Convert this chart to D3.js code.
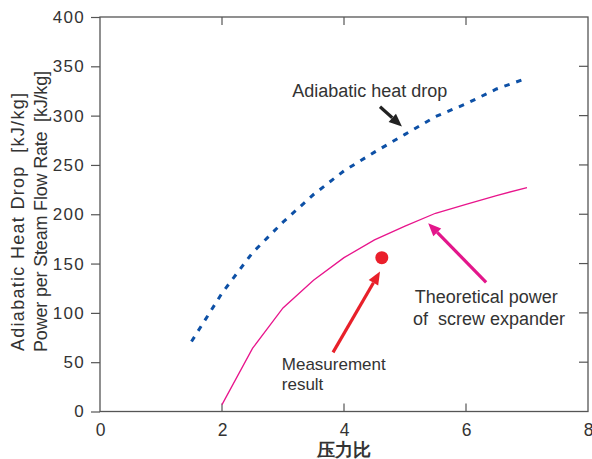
<!DOCTYPE html>
<html>
<head>
<meta charset="utf-8">
<script src="https://cdn.jsdelivr.net/npm/d3@7"></script>
<style>
  body { margin: 0; background: #fff; }
  text { font-family: "Liberation Sans", Arial, sans-serif; fill: #333; }
</style>
</head>
<body>
<div id="chart"></div>
<script>
// pressure ratio values
var pressureRatio = [1.5, 2, 2.5, 3, 3.5, 4, 4.5, 5, 5.5, 6, 6.5, 7];
var heatDrop = [71, 120, 161, 192, 220, 244, 263, 281, 299, 312, 327, 338];
var ratioPower = [2, 2.5, 3, 3.5, 4, 4.5, 5, 5.5, 6, 6.5, 7];
var theoreticalPower = [7, 64, 105, 133, 156, 174, 188, 201, 210, 219, 227];
var measured = [{ x: 4.62, y: 156 }];

var xTicks = [0, 2, 4, 6, 8];
var yTicks = [0, 50, 100, 150, 200, 250, 300, 350, 400];

// annotations, in data units
var arrows = [
  { from: [4.59, 309], to: [4.95, 289], color: "#222" },
  { from: [3.82, 60], to: [4.59, 142], color: "#e8202a" },
  { from: [6.33, 131], to: [5.38, 191], color: "#e3168b" }
];
var labels = [
  { x: 3.15, y: 319, size: 18, text: "Adiabatic heat drop" },
  { x: 5.16, y: 110, size: 18, text: "Theoretical power" },
  { x: 5.13, y: 88, size: 18, text: "of\u00a0 screw expander" },
  { x: 2.98, y: 42, size: 17, text: "Measurement" },
  { x: 2.98, y: 22, size: 17, text: "result" }
];

var width = 592, height = 459;
var margin = { top: 17, right: 4, bottom: 47.5, left: 100 };

var svg = d3.select("#chart").append("svg")
    .attr("width", width)
    .attr("height", height);

var x = d3.scaleLinear().domain([0, 8]).range([margin.left, width - margin.right]);
var y = d3.scaleLinear().domain([0, 400]).range([height - margin.bottom, margin.top]);

// left axis, ticks outward
svg.append("g")
    .attr("transform", "translate(" + margin.left + ",0)")
    .call(d3.axisLeft(y).tickValues(yTicks).tickSize(9).tickPadding(6))
    .call(g => g.select(".domain").remove())
    .call(g => g.selectAll("line").attr("stroke", "#555").attr("stroke-width", 1.2))
    .call(g => g.selectAll("text").attr("font-size", 17).attr("letter-spacing", 1.3)
        .attr("fill", "#333").attr("font-family", "Liberation Sans, Arial, sans-serif"));

// bottom axis, ticks inward
svg.append("g")
    .attr("transform", "translate(0," + y(0) + ")")
    .call(d3.axisBottom(x).tickValues(xTicks).tickSize(0).tickPadding(12))
    .call(g => g.select(".domain").remove())
    .call(g => g.selectAll("text").attr("font-size", 17.5)
        .attr("fill", "#333").attr("font-family", "Liberation Sans, Arial, sans-serif"));

var inner = [2, 4, 6];
svg.append("g").selectAll("line").data(inner).enter().append("line")
    .attr("x1", d => x(d)).attr("x2", d => x(d))
    .attr("y1", y(0)).attr("y2", y(0) - 8)
    .attr("stroke", "#555").attr("stroke-width", 1.2);
svg.append("g").selectAll("line").data(inner).enter().append("line")
    .attr("x1", d => x(d)).attr("x2", d => x(d))
    .attr("y1", y(400)).attr("y2", y(400) + 8)
    .attr("stroke", "#555").attr("stroke-width", 1.2);
svg.append("g").selectAll("line").data(yTicks.slice(1, -1)).enter().append("line")
    .attr("x1", x(8)).attr("x2", x(8) - 9)
    .attr("y1", d => y(d)).attr("y2", d => y(d))
    .attr("stroke", "#555").attr("stroke-width", 1.2);

// frame
svg.append("rect")
    .attr("x", x(0)).attr("y", y(400))
    .attr("width", x(8) - x(0)).attr("height", y(0) - y(400))
    .attr("fill", "none").attr("stroke", "#555").attr("stroke-width", 1.3);

var line = d3.line().x(d => x(d[0])).y(d => y(d[1]));

svg.append("path")
    .datum(d3.zip(pressureRatio, heatDrop))
    .attr("d", line)
    .attr("fill", "none")
    .attr("stroke", "#0d50a6")
    .attr("stroke-width", 3)
    .attr("stroke-dasharray", "5.5,7");

svg.append("path")
    .datum(d3.zip(ratioPower, theoreticalPower))
    .attr("d", line)
    .attr("fill", "none")
    .attr("stroke", "#e8158c")
    .attr("stroke-width", 1.3);

svg.selectAll("circle.meas").data(measured).enter().append("circle")
    .attr("class", "meas")
    .attr("cx", d => x(d.x)).attr("cy", d => y(d.y))
    .attr("r", 6.5)
    .attr("fill", "#ea1f2b");

// arrows
arrows.forEach(function(a) {
  var x1 = x(a.from[0]), y1 = y(a.from[1]), x2 = x(a.to[0]), y2 = y(a.to[1]);
  var ang = Math.atan2(y2 - y1, x2 - x1);
  var len = 13, half = 5.5;
  var bx = x2 - len * Math.cos(ang), by = y2 - len * Math.sin(ang);
  svg.append("line")
      .attr("x1", x1).attr("y1", y1).attr("x2", bx).attr("y2", by)
      .attr("stroke", a.color).attr("stroke-width", 3.2);
  svg.append("path")
      .attr("d", "M" + x2 + "," + y2 +
          "L" + (bx + half * Math.sin(ang)) + "," + (by - half * Math.cos(ang)) +
          "L" + (bx - half * Math.sin(ang)) + "," + (by + half * Math.cos(ang)) + "Z")
      .attr("fill", a.color);
});

svg.selectAll("text.note").data(labels).enter().append("text")
    .attr("class", "note")
    .attr("x", d => x(d.x)).attr("y", d => y(d.y))
    .attr("font-size", d => d.size)
    .text(d => d.text);

// y axis title, two lines
var yTitle = ["Adiabatic Heat Drop\u00a0 [kJ/kg]", "Power per Steam Flow Rate\u00a0 [kJ/kg]"];
var yTitleLen = [258, 281];
svg.selectAll("text.ytitle").data(yTitle).enter().append("text")
    .attr("class", "ytitle")
    .attr("transform", (d, i) => "translate(" + (23.5 + i * 23) + "," + (351 + i) + ") rotate(-90)")
    .attr("font-size", 18)
    .attr("textLength", (d, i) => yTitleLen[i])
    .text(d => d);

svg.append("text")
    .attr("x", x(4)).attr("y", 456)
    .attr("text-anchor", "middle")
    .attr("font-family", "Noto Sans CJK SC")
    .attr("font-weight", "bold")
    .attr("font-size", 18)
    .text("压力比");
</script>
</body>
</html>
